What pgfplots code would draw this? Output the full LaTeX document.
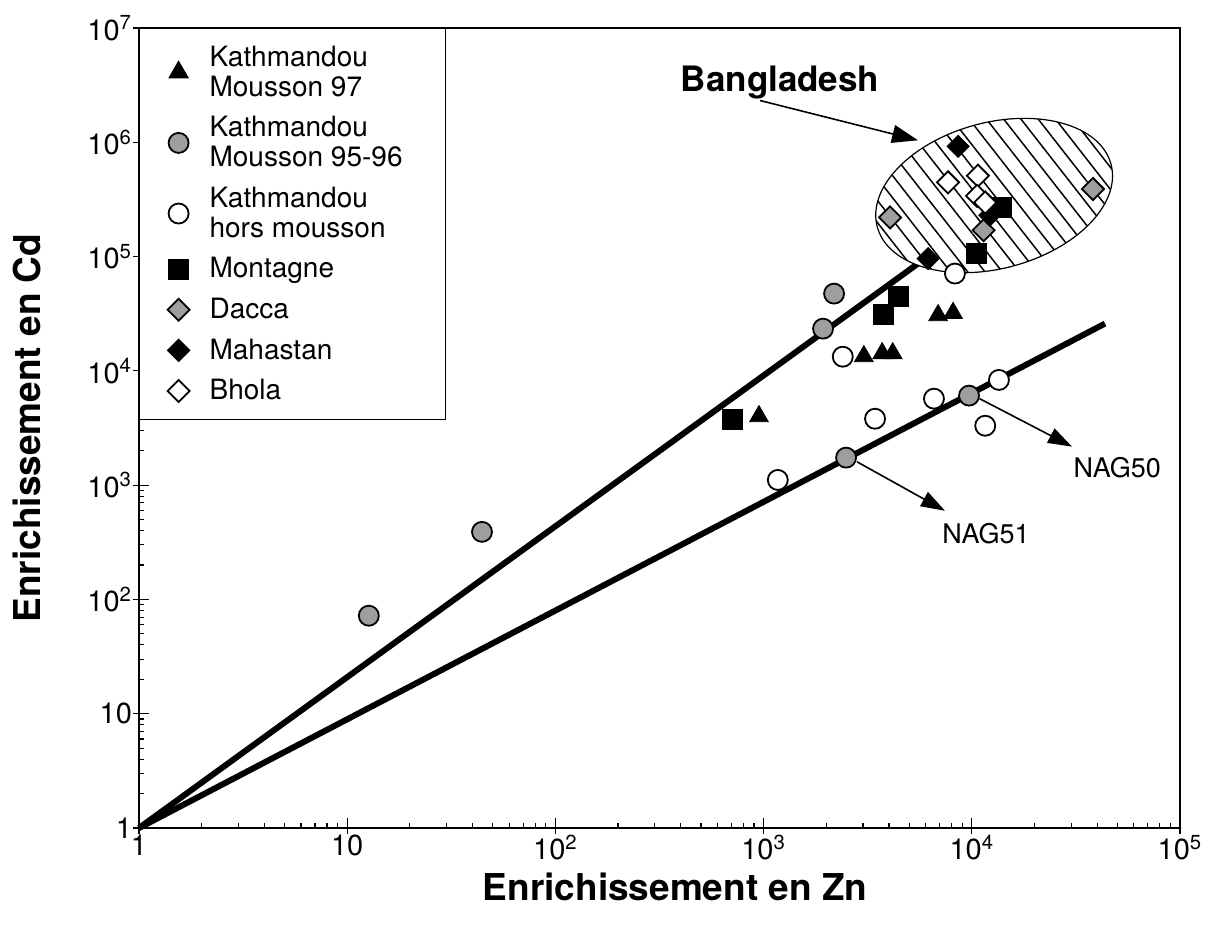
\documentclass[border=0pt]{standalone}
\usepackage{fontspec}
\setmainfont{TeX Gyre Heros}
\usepackage{pgfplots}
\pgfplotsset{compat=1.18}
\usetikzlibrary{arrows.meta,patterns.meta}

\definecolor{dotgrey}{gray}{0.62}

\pgfplotsset{
  pts/.style={only marks,
    legend image code/.code={%
      \path[draw=none, fill=none] (0pt,-4pt) rectangle (30.5pt,4pt);
      \draw[##1] plot coordinates {(17pt,0pt)};}},
}

\begin{document}
\begin{tikzpicture}
\begin{axis}[
  xmode=log, ymode=log,
  scale only axis, width=520.5pt, height=400pt,
  xmin=1, xmax=1e5, ymin=1, ymax=1e7,
  axis line style={line width=0.8pt},
  tick style={line width=0.6pt, black},
  tick align=inside, tick pos=left,
  major tick length=5pt, minor tick length=2.5pt,
  xtick={1,10,100,1000,10000,100000},
  xticklabels={1,10,10\textsuperscript{2},10\textsuperscript{3},10\textsuperscript{4},10\textsuperscript{5}},
  ytick={1,10,100,1000,1e4,1e5,1e6,1e7},
  yticklabels={1,10,10\textsuperscript{2},10\textsuperscript{3},10\textsuperscript{4},10\textsuperscript{5},10\textsuperscript{6},10\textsuperscript{7}},
  extra x ticks={1,10,100,1000,10000,100000}, extra x tick labels={},
  extra y ticks={1,10,100,1000,1e4,1e5,1e6,1e7}, extra y tick labels={},
  extra tick style={tick align=outside, major tick length=3pt},
  tick label style={font=\fontsize{14.5}{16}\selectfont},
  xlabel={Enrichissement en Zn},
  ylabel={Enrichissement en Cd},
  label style={font=\fontsize{18.5}{21}\selectfont\bfseries},
  xlabel style={at={(axis description cs:0.515,-0.074)}, anchor=center},
  ylabel style={at={(axis description cs:-0.108,0.5)}, anchor=center},
  legend style={at={(0,1)}, anchor=north west, draw=black, semithick,
    nodes={font=\fontsize{14}{15}\selectfont},
    cells={align=left},
    row sep=4.6pt, inner xsep=2.5pt, inner ysep=6.5pt},
  legend cell align=left,
  clip=false,
]
% regression lines
\addplot[line width=3pt, black, forget plot] coordinates {(1,1) (6000,97000)};
\addplot[line width=3pt, black, forget plot] coordinates {(1,1) (43600,25900)};

% Bangladesh envelope
\fill[white] (axis cs:12800,3.42e5) ellipse [x radius=60.5pt, y radius=36.5pt, rotate=15];
\draw[line width=0.6pt, pattern={Lines[angle=-52, distance=6.8pt, line width=0.75pt]}]
  (axis cs:12800,3.42e5) ellipse [x radius=60.5pt, y radius=36.5pt, rotate=15];

% Kathmandou Mousson 97
\addplot[pts, mark=triangle*, mark size=5.4pt, mark options={fill=black, draw=black}]
  coordinates {(950,4000) (3030,13400) (3710,14200) (4170,14200) (6890,30600) (8130,32000)};
\addlegendentry{Kathmandou\\Mousson 97}
% Kathmandou Mousson 95-96
\addplot[pts, mark=*, mark size=5pt, mark options={fill=dotgrey, draw=black, line width=0.9pt}]
  coordinates {(12.7,72) (44.4,390) (1930,23400) (2180,47400) (2490,1740) (9700,6070)};
\addlegendentry{Kathmandou\\Mousson 95-96\hspace*{17pt}}
% Kathmandou hors mousson
\addplot[pts, mark=*, mark size=5pt, mark options={fill=white, draw=black, line width=0.9pt}]
  coordinates {(1170,1110) (2400,13300) (3430,3810) (6580,5710) (8300,71000) (11600,3310) (13500,8330)};
\addlegendentry{Kathmandou\\hors mousson}
% Montagne
\addplot[pts, mark=square*, mark size=5pt, mark options={fill=black, draw=black}]
  coordinates {(705,3730) (3750,31000) (4440,44700) (10500,106000) (13800,270000)};
\addlegendentry{Montagne}
% Dacca
\addplot[pts, mark=square*, mark size=3.9pt, mark options={rotate=45, fill=dotgrey, draw=black, line width=0.9pt}]
  coordinates {(4050,220000) (11400,170000) (38200,390000)};
\addlegendentry{Dacca}
% Mahastan
\addplot[pts, mark=square*, mark size=3.9pt, mark options={rotate=45, fill=black, draw=black}]
  coordinates {(6170,96000) (8600,920000) (12200,230000)};
\addlegendentry{Mahastan}
% Bhola
\addplot[pts, mark=square*, mark size=3.9pt, mark options={rotate=45, fill=white, draw=black, line width=0.9pt}]
  coordinates {(7690,446000) (10700,510000) (10600,340000) (11600,297000)};
\addlegendentry{Bhola}

% annotations
\node[font=\fontsize{17.5}{20}\selectfont\bfseries] at (axis cs:1200,3.34e6) {Bangladesh};
\draw[line width=0.8pt, -{Triangle[length=13pt, width=9pt]}] (axis cs:961,2.32e6) -- (axis cs:5520,1.04e6);
\draw[line width=0.8pt, -{Triangle[length=12pt, width=8pt]}] (axis cs:2810,1600) -- (axis cs:7430,597);
\node[font=\fontsize{13.5}{16}\selectfont] at (axis cs:11700,375) {NAG51};
\draw[line width=0.8pt, -{Triangle[length=12pt, width=8pt]}] (axis cs:10900,5710) -- (axis cs:30300,2170);
\node[font=\fontsize{13.5}{16}\selectfont] at (axis cs:50000,1420) {NAG50};
\end{axis}
\path ([xshift=-69.5pt,yshift=-52.5pt]current axis.south west) rectangle ([xshift=17.5pt,yshift=14pt]current axis.north east);
\end{tikzpicture}
\end{document}
